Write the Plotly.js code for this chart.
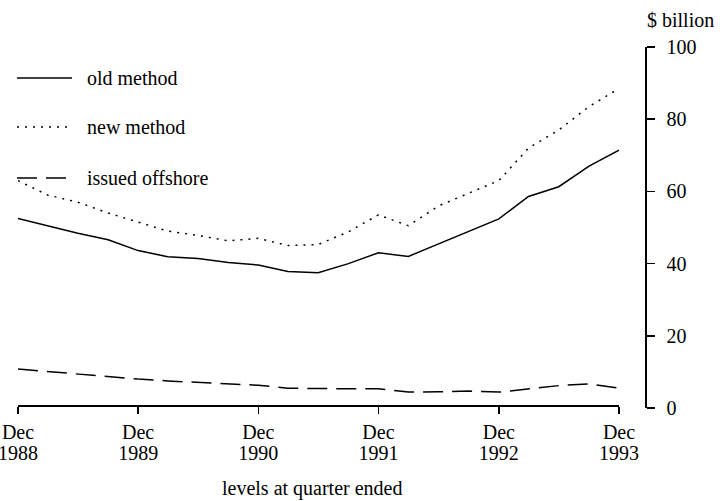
<!DOCTYPE html>
<html>
<head>
<meta charset="utf-8">
<script src="https://cdn.plot.ly/plotly-3.0.1.min.js"></script>
<style>
html,body{margin:0;padding:0;background:#fff;font-family:'Liberation Serif',serif;}
#chart text{font-family:'Liberation Serif',serif !important;}
</style>
</head>
<body>
<div id="chart" style="width:720px;height:501px;"></div>
<script>
// Quarter ends, Dec 1988 .. Dec 1993
const quarters = ['1988-12','1989-03','1989-06','1989-09','1989-12','1990-03','1990-06','1990-09','1990-12',
  '1991-03','1991-06','1991-09','1991-12','1992-03','1992-06','1992-09','1992-12','1993-03','1993-06','1993-09','1993-12'];
const oldMethod = [52.5,50.5,48.4,46.6,43.6,41.9,41.4,40.3,39.6,37.8,37.5,40.0,43.0,42.0,45.5,49.0,52.4,58.6,61.3,67.0,71.4];
const newMethod = [63.0,59.0,57.0,54.0,51.5,49.0,47.8,46.3,47.0,45.0,45.3,48.8,53.5,50.5,56.0,59.5,63.0,72.0,77.0,83.5,88.5];
const issuedOffshore = [10.8,10.1,9.4,8.7,8.0,7.5,7.1,6.7,6.3,5.5,5.3,5.3,5.3,4.4,4.5,4.7,4.4,5.3,6.2,6.7,5.5];
const seriesNames = ['old method','new method','issued offshore'];
const seriesDash = ['solid','2px,6px','20px,9px'];
const tickDates = ['1988-12','1989-12','1990-12','1991-12','1992-12','1993-12'];
const tickMonth = ['Dec','Dec','Dec','Dec','Dec','Dec'];
const tickYears = ['1988','1989','1990','1991','1992','1993'];
const yTicks = [0,20,40,60,80,100];

const W = 720, H = 501;
const L = 18, R = 75, T = 47, B = 93;
const pw = W - L - R, ph = H - T - B;
const px = v => (v - L) / pw;
const py = v => (H - B - v) / ph;
const FONT = 'Liberation Serif';
const tf = {family: FONT, size: 20, color: '#000'};

const series = [oldMethod, newMethod, issuedOffshore];
const traces = series.map((ys, i) => ({
  x: quarters, y: ys, type: 'scatter', mode: 'lines', name: seriesNames[i],
  line: {color: '#000', width: 1.5, dash: seriesDash[i]}, showlegend: false, hoverinfo: 'skip'
}));

const legY = [78, 127, 178];
const shapes = legY.map((y, i) => ({
  type: 'line', xref: 'paper', yref: 'paper', x0: px(17), x1: px(72), y0: py(y), y1: py(y),
  line: {color: '#000', width: 1.5, dash: seriesDash[i]}
}));
const annotations = legY.map((y, i) => ({
  xref: 'paper', yref: 'paper', x: px(85), y: py(y), xanchor: 'left', yanchor: 'middle',
  text: seriesNames[i], showarrow: false, font: tf
}));
annotations.push({xref: 'paper', yref: 'paper', x: 1, y: py(20), xanchor: 'left', yanchor: 'middle',
  text: '$ billion', showarrow: false, font: tf});
annotations.push({xref: 'paper', yref: 'paper', x: px(312), y: py(488), xanchor: 'center', yanchor: 'middle',
  text: 'levels at quarter ended', showarrow: false, font: tf});

const xdom = [0, (619 - L) / pw];
const layout = {
  width: W, height: H, margin: {l: L, r: R, t: T, b: B, pad: 0},
  paper_bgcolor: '#fff', plot_bgcolor: '#fff', showlegend: false,
  font: tf,
  xaxis: {
    type: 'date', domain: xdom, range: ['1988-12', '1993-12'], anchor: 'free', position: 3 / ph,
    showgrid: false, zeroline: false, showline: true, linecolor: '#000', linewidth: 1.5,
    ticks: 'outside', ticklen: 7, tickwidth: 1.5, tickcolor: '#000',
    tickmode: 'array', tickvals: tickDates, ticktext: tickMonth, ticklabeloverflow: 'allow',
    tickfont: tf, ticklabelstandoff: 1
  },
  xaxis2: {
    type: 'date', domain: xdom, range: ['1988-12', '1993-12'], overlaying: 'x', anchor: 'free', position: 3 / ph,
    side: 'bottom', showgrid: false, zeroline: false, showline: false, ticks: '',
    tickmode: 'array', tickvals: tickDates, ticktext: tickYears, ticklabeloverflow: 'allow',
    tickfont: tf, ticklabelstandoff: 34
  },
  yaxis: {
    range: [0, 100], side: 'right', anchor: 'free', position: 1,
    showgrid: false, zeroline: false, showline: true, linecolor: '#000', linewidth: 1.5,
    ticks: 'outside', ticklen: 8, tickwidth: 1.5, tickcolor: '#000',
    tickmode: 'array', tickvals: yTicks, ticktext: yTicks.map(String),
    tickfont: tf, ticklabelstandoff: 8
  },
  shapes: shapes, annotations: annotations
};
traces.push({x: [quarters[0]], y: [null], xaxis: 'x2', type: 'scatter', mode: 'lines', showlegend: false, hoverinfo: 'skip'});
Plotly.newPlot('chart', traces, layout, {staticPlot: true, displayModeBar: false});
</script>
</body>
</html>
